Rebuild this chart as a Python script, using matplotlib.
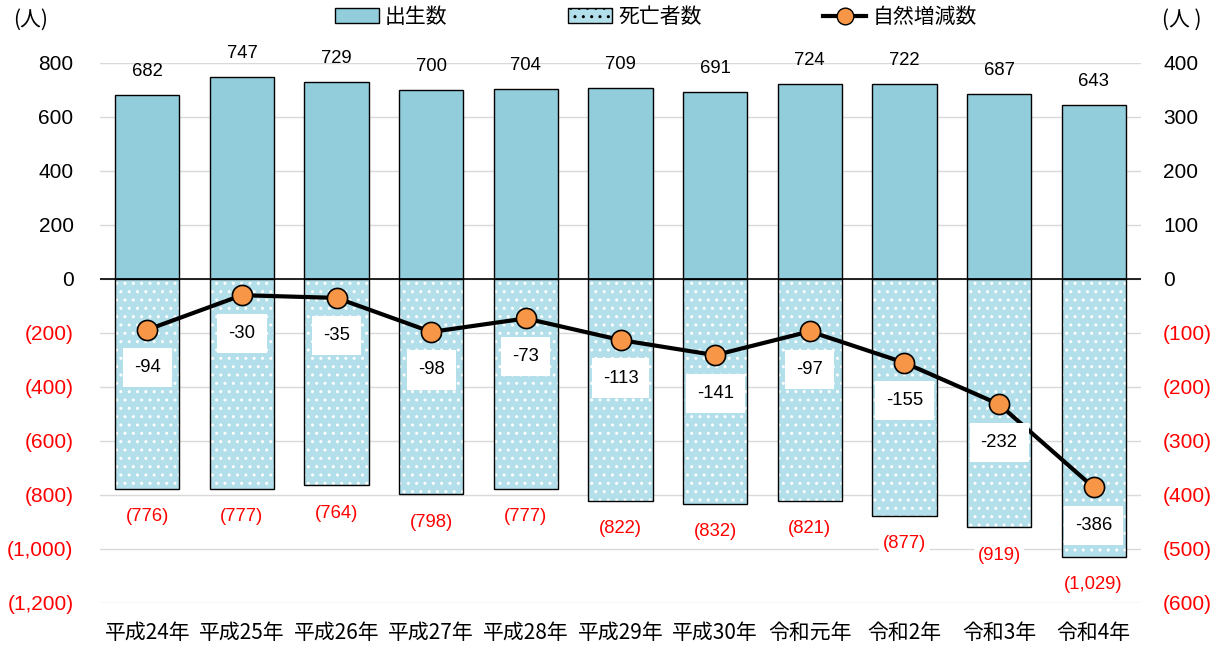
import matplotlib
matplotlib.use("Agg")
import matplotlib.pyplot as plt
from matplotlib.patches import Patch
from matplotlib.lines import Line2D
import numpy as np

plt.rcParams['font.family'] = ['Liberation Sans', 'Noto Sans CJK JP', 'DejaVu Sans']
plt.rcParams['hatch.linewidth'] = 1.0

categories = ["平成24年", "平成25年", "平成26年", "平成27年", "平成28年", "平成29年",
              "平成30年", "令和元年", "令和2年", "令和3年", "令和4年"]
births = [682, 747, 729, 700, 704, 709, 691, 724, 722, 687, 643]
deaths = [776, 777, 764, 798, 777, 822, 832, 821, 877, 919, 1029]
natural = [-94, -30, -35, -98, -73, -113, -141, -97, -155, -232, -386]
left_ticks = [800, 600, 400, 200, 0, -200, -400, -600, -800, -1000, -1200]
right_ticks = [400, 300, 200, 100, 0, -100, -200, -300, -400, -500, -600]

def fmt(v):
    if v < 0:
        return "({:,})".format(-v)
    return "{:,}".format(v)

W, H = 1221, 649
fig = plt.figure(figsize=(W / 100, H / 100), dpi=100)
ax = fig.add_axes([100 / W, 1 - 603 / H, 1041 / W, 540 / H])
ax2 = ax.twinx()

x = np.arange(len(categories))
bw = 0.68
birth_col = '#92CDDC'
death_face = '#B2DFEA'
tick_fs = 15
val_fs = 13.3

ax.bar(x, births, width=bw, color=birth_col, edgecolor='black', linewidth=1.0, zorder=2)
neg = [-d for d in deaths]
ax.bar(x, neg, width=bw, color=death_face, edgecolor='white', linewidth=0, hatch='..', zorder=2)
ax.bar(x, neg, width=bw, color='none', edgecolor='black', linewidth=1.0, zorder=3)

ax.set_ylim(-1200, 800)
ax.set_xlim(-0.5, len(categories) - 0.5)
ax.set_yticks(left_ticks)
ax.set_yticklabels([fmt(v) for v in left_ticks], fontsize=tick_fs)
for lab, v in zip(ax.get_yticklabels(), left_ticks):
    lab.set_color('red' if v < 0 else 'black')
ax.grid(axis='y', color='#d9d9d9', linewidth=1.0, zorder=0)
ax.set_axisbelow(True)
ax.axhline(0, color='black', linewidth=1.2, zorder=4)
ax.set_xticks(x)
ax.set_xticklabels(categories, fontsize=tick_fs, family=['Noto Sans CJK JP'])
ax.tick_params(axis='both', length=0)
ax.tick_params(axis='y', pad=19)
ax.tick_params(axis='x', pad=14)
for s in ax.spines.values():
    s.set_visible(False)

for xi, b in zip(x, births):
    ax.annotate(str(b), (xi, b), xytext=(0, 15), textcoords='offset pixels',
                ha='center', va='bottom', fontsize=val_fs)
for xi, d in zip(x, deaths):
    ax.annotate(fmt(-d), (xi, -d), xytext=(0, -28), textcoords='offset pixels',
                ha='center', va='center', fontsize=val_fs, color='red',
                bbox=dict(boxstyle='square,pad=0.2', fc='white', ec='none'), zorder=5)

ax2.set_ylim(-600, 400)
ax2.set_yticks(right_ticks)
ax2.set_yticklabels([fmt(v) for v in right_ticks], fontsize=tick_fs)
for lab, v in zip(ax2.get_yticklabels(), right_ticks):
    lab.set_color('red' if v < 0 else 'black')
ax2.tick_params(axis='y', length=0, pad=16)
for s in ax2.spines.values():
    s.set_visible(False)

ax2.plot(x, natural, color='black', linewidth=3, marker='o', markersize=14.5,
         markerfacecolor='#F79646', markeredgecolor='black', markeredgewidth=1.2, zorder=6)
for xi, n in zip(x, natural):
    ax2.annotate(str(n), (xi, n), xytext=(0, -38), textcoords='offset pixels',
                 ha='center', va='center', fontsize=val_fs,
                 bbox=dict(boxstyle='square,pad=0.6', fc='white', ec='none'), zorder=7)

fig.text(13 / W, 1 - 20 / H, "(人)", fontsize=tick_fs, ha='left', va='center',
         family=['Noto Sans CJK JP'])
fig.text(1162 / W, 1 - 20 / H, "(人 )", fontsize=tick_fs, ha='left', va='center',
         family=['Noto Sans CJK JP'])

handles = [
    Patch(facecolor=birth_col, edgecolor='black', linewidth=1.0),
    Patch(facecolor=death_face, edgecolor='black', linewidth=1.0, hatch='..'),
    Line2D([0], [0], color='black', linewidth=3, marker='o', markersize=12,
           markerfacecolor='#F79646', markeredgecolor='black'),
]
leg = fig.legend(handles, ["出生数", "死亡者数", "自然増減数"], loc='center',
                 bbox_to_anchor=(656 / W, 1 - 17 / H), ncol=3, frameon=False,
                 prop={'family': ['Noto Sans CJK JP'], 'size': 15},
                 columnspacing=5.8, handlelength=2.1, handletextpad=0.3)

fig.savefig("out.png", dpi=100)
